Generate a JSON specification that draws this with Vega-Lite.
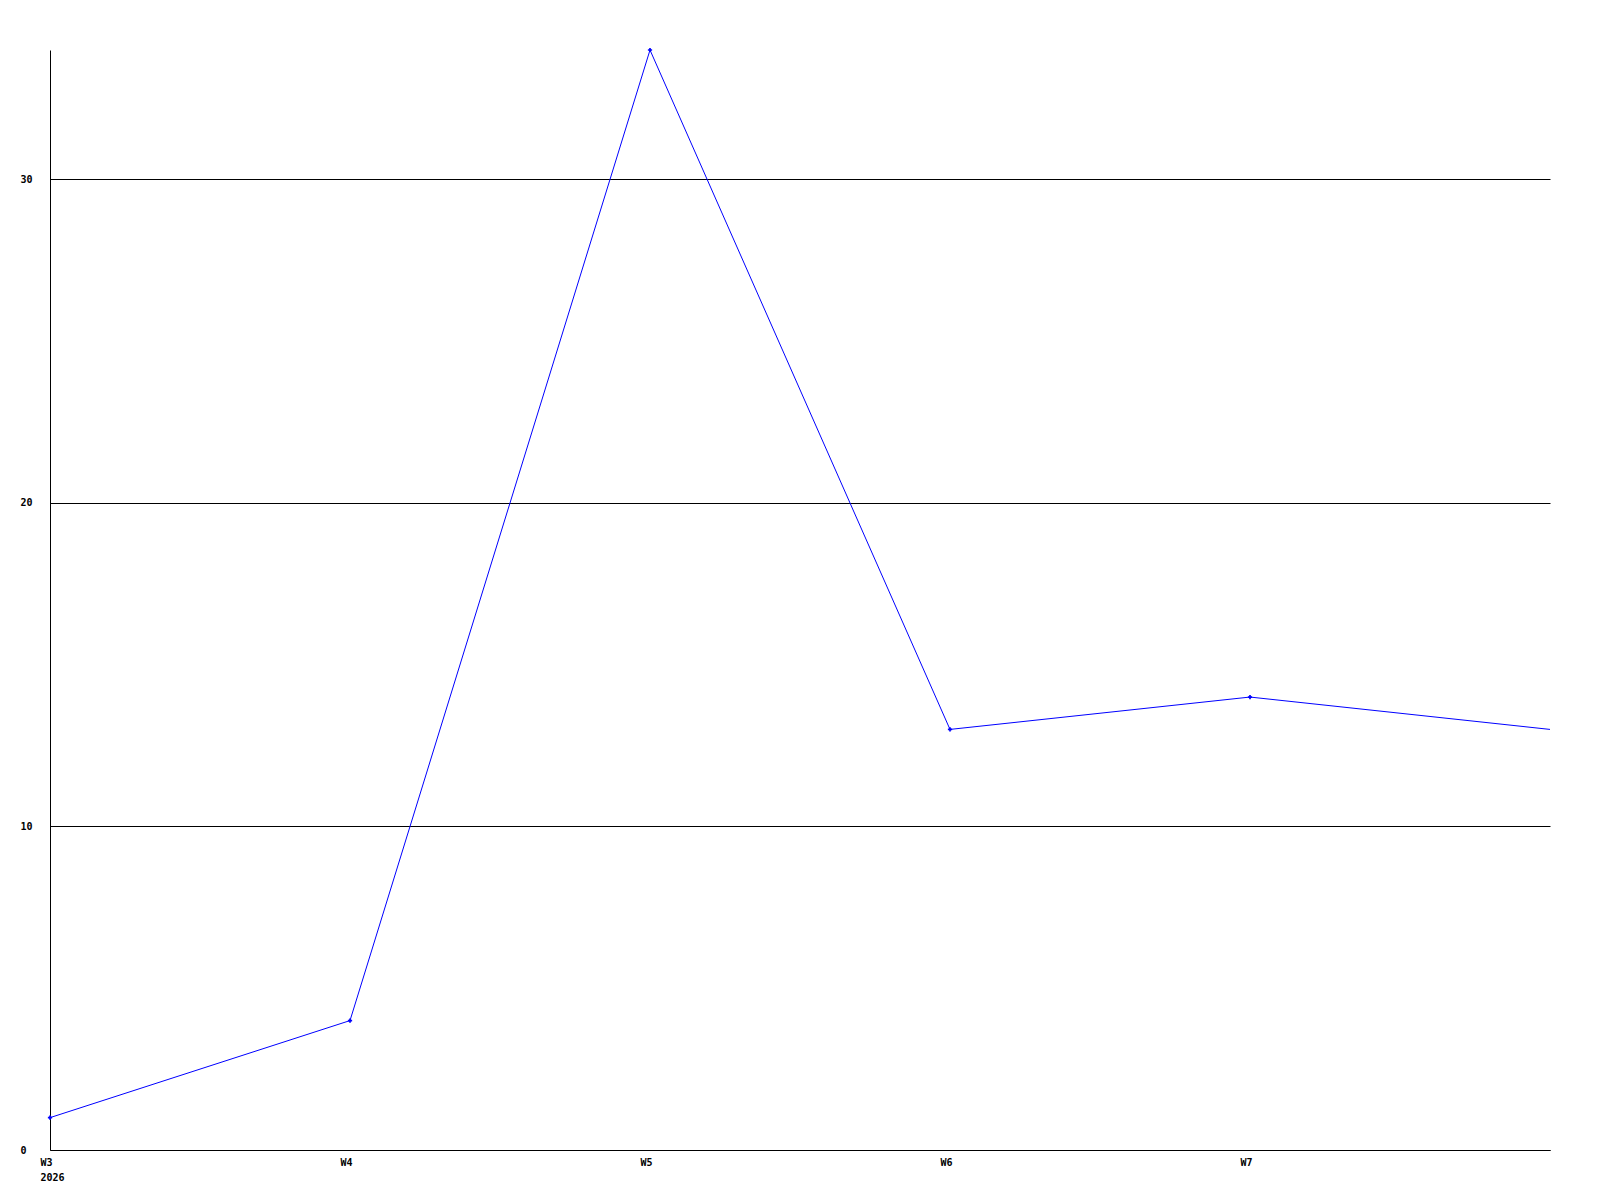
{
  "$schema": "https://vega.github.io/schema/vega-lite/v6.json",
  "width": 1500,
  "height": 1100,
  "autosize": {"type": "none"},
  "padding": {"left": 50, "top": 50, "right": 50, "bottom": 50},
  "background": "white",
  "config": {"view": {"stroke": null}},
  "data": {"values": [
    {"week": 3, "value": 1},
    {"week": 4, "value": 4},
    {"week": 5, "value": 34},
    {"week": 6, "value": 13},
    {"week": 7, "value": 14},
    {"week": 8, "value": 13}
  ]},
  "encoding": {
    "x": {"field": "week", "type": "quantitative",
      "scale": {"domain": [3, 8], "nice": false, "zero": false},
      "axis": {"title": null, "values": [3, 4, 5, 6, 7], "grid": false, "ticks": false, "tickSize": 0,
        "domainColor": "black", "domainWidth": 1,
        "labelExpr": "datum.value == 3 ? ['W3', '2026'] : 'W' + datum.value",
        "labelAlign": "left", "labelBaseline": "top", "labelPadding": 7, "labelOffset": -10,
        "labelFont": "DejaVu Sans Mono", "labelFontWeight": "bold", "labelFontSize": 10, "labelColor": "black",
        "labelLineHeight": 15, "labelFlush": false, "labelOverlap": false}},
    "y": {"field": "value", "type": "quantitative",
      "scale": {"domain": [0, 34], "nice": false},
      "axis": {"title": null, "values": [0, 10, 20, 30], "grid": true, "gridColor": "black", "gridWidth": 1, "gridOpacity": 1,
        "ticks": false, "tickSize": 0, "domainColor": "black", "domainWidth": 1,
        "labelAlign": "left", "labelBaseline": "middle", "labelPadding": 30,
        "labelFont": "DejaVu Sans Mono", "labelFontWeight": "bold", "labelFontSize": 10, "labelColor": "black",
        "labelFlush": false, "labelOverlap": false}}
  },
  "layer": [
    {"mark": {"type": "line", "color": "#0000ff", "strokeWidth": 1}},
    {"transform": [{"filter": "datum.week < 8"}],
     "mark": {"type": "point", "shape": "cross", "size": 18, "filled": true, "color": "#0000ff", "opacity": 1}}
  ]
}
